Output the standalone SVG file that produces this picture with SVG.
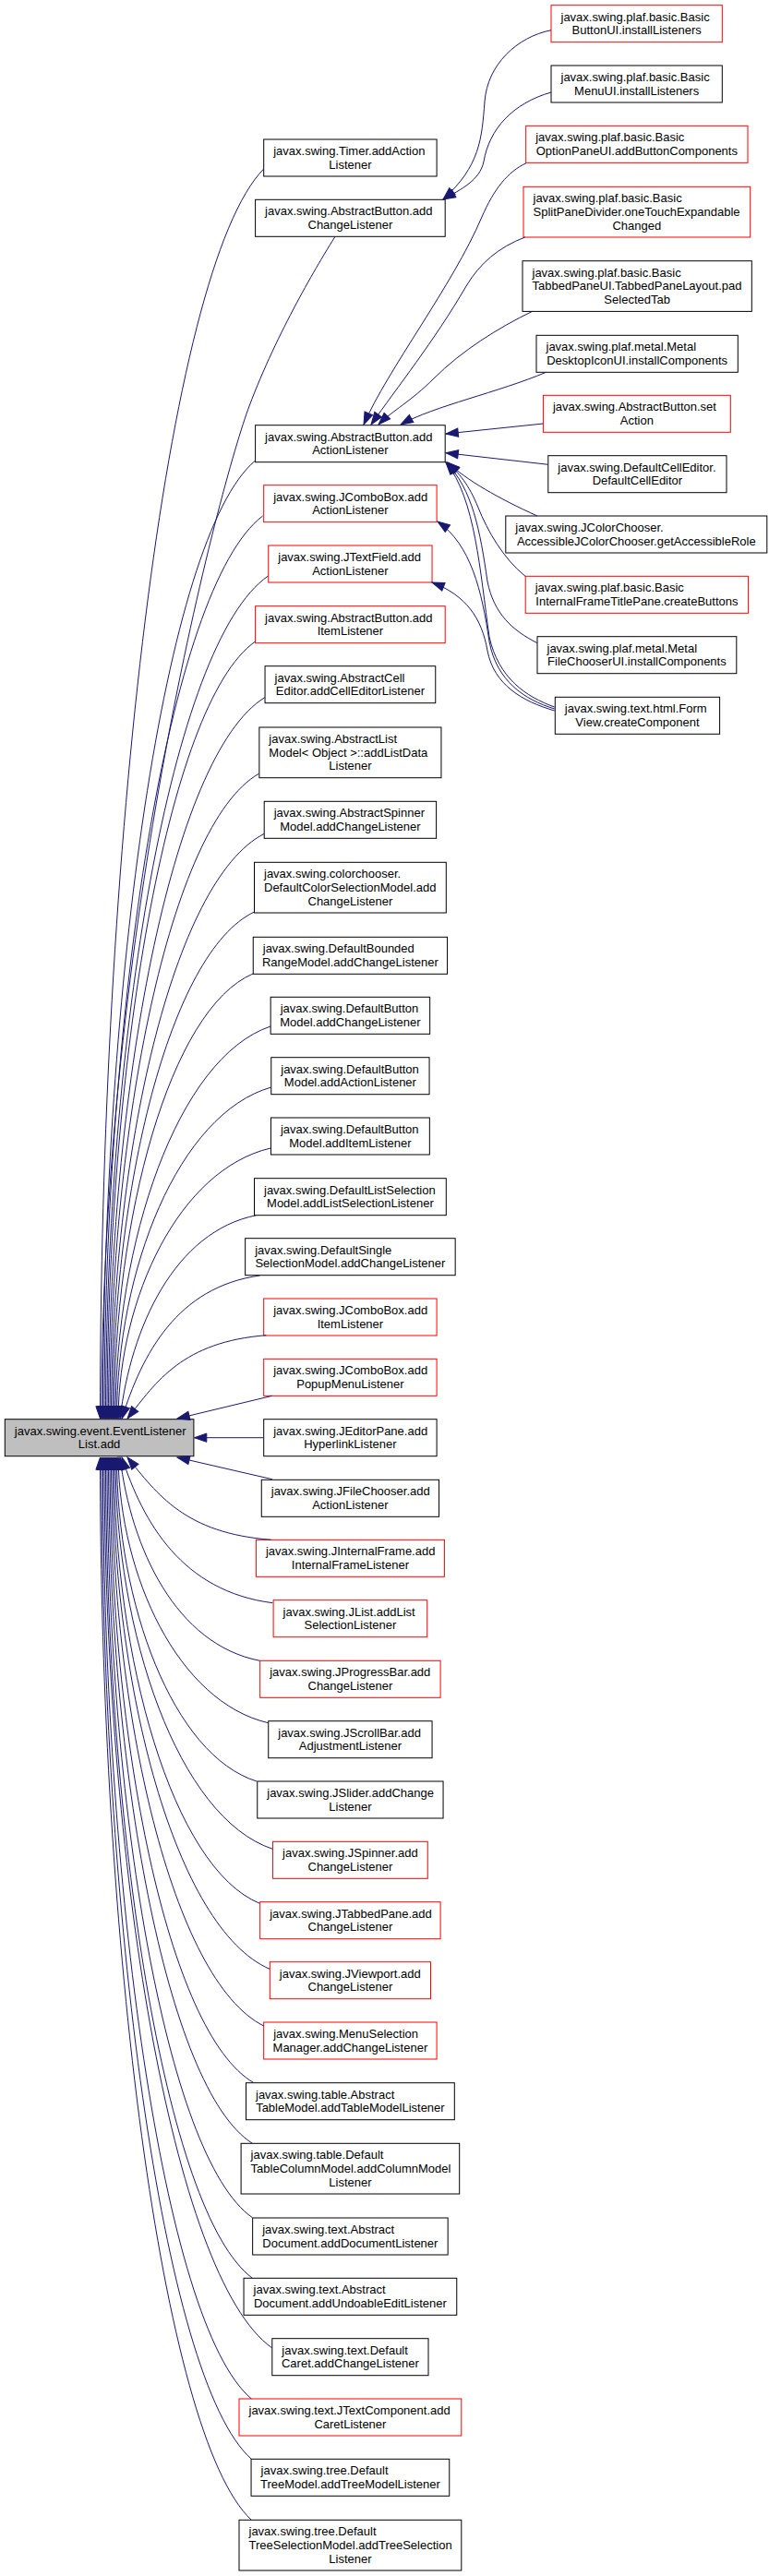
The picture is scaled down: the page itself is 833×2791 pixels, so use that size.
<svg xmlns="http://www.w3.org/2000/svg" width="833" height="2791" viewBox="0 0 833 2791">
<defs>
<style>
.n rect{fill:#fff;stroke:#000;stroke-width:1}
.n.r rect{stroke:#f00}
.n.root rect{fill:#bfbfbf}
text{font-family:"Liberation Sans",Arial,Helvetica,sans-serif;font-size:13px;fill:#000}
.c{text-anchor:middle}
#edges path{fill:none;stroke:#191970;stroke-width:1;marker-end:url(#arr)}
</style>
<marker id="arr" markerUnits="userSpaceOnUse" viewBox="0 0 14 10" markerWidth="14" markerHeight="10" refX="13.3" refY="4.65" orient="auto" overflow="visible"><path d="M0,0 L13.3,4.65 L0,9.3 Z" fill="#191970" stroke="#191970" stroke-width="1"/></marker>
</defs>
<rect width="833" height="2791" fill="#fff"/>

<g id="nodes">
<g id="n1" class="n r"><rect x="597" y="5.7" width="185.3" height="40"/><text x="607.5" y="22.5">javax.swing.plaf.basic.Basic</text><text class="c" x="689.65" y="37.3">ButtonUI.installListeners</text></g>
<g id="n2" class="n"><rect x="597" y="71" width="185.3" height="40"/><text x="607.5" y="87.8">javax.swing.plaf.basic.Basic</text><text class="c" x="689.65" y="102.6">MenuUI.installListeners</text></g>
<g id="n3" class="n r"><rect x="569.7" y="136.3" width="240.3" height="40"/><text x="580.2" y="153.1">javax.swing.plaf.basic.Basic</text><text class="c" x="689.85" y="167.9">OptionPaneUI.addButtonComponents</text></g>
<g id="n4" class="n r"><rect x="567" y="202.3" width="245.7" height="54.7"/><text x="577.5" y="219.1">javax.swing.plaf.basic.Basic</text><text x="577.5" y="233.9">SplitPaneDivider.oneTouchExpandable</text><text class="c" x="689.85" y="248.7">Changed</text></g>
<g id="n5" class="n"><rect x="285.7" y="151" width="187.4" height="40"/><text x="296.2" y="167.8">javax.swing.Timer.addAction</text><text class="c" x="379.4" y="182.6">Listener</text></g>
<g id="n6" class="n"><rect x="276.6" y="216.3" width="205.6" height="40"/><text x="287.1" y="233.1">javax.swing.AbstractButton.add</text><text class="c" x="379.4" y="247.9">ChangeListener</text></g>
<g id="n7" class="n"><rect x="566" y="282.7" width="248.3" height="54.7"/><text x="576.5" y="299.5">javax.swing.plaf.basic.Basic</text><text x="576.5" y="314.3">TabbedPaneUI.TabbedPaneLayout.pad</text><text class="c" x="690.15" y="329.1">SelectedTab</text></g>
<g id="n8" class="n"><rect x="581" y="363.3" width="218.3" height="40"/><text x="591.5" y="380.1">javax.swing.plaf.metal.Metal</text><text class="c" x="690.15" y="394.9">DesktopIconUI.installComponents</text></g>
<g id="n9" class="n r"><rect x="588.4" y="428.3" width="202.9" height="40"/><text x="598.9" y="445.1">javax.swing.AbstractButton.set</text><text class="c" x="689.85" y="459.9">Action</text></g>
<g id="n10" class="n"><rect x="276.6" y="460.7" width="205.6" height="40"/><text x="287.1" y="477.5">javax.swing.AbstractButton.add</text><text class="c" x="379.4" y="492.3">ActionListener</text></g>
<g id="n11" class="n"><rect x="593.8" y="493.7" width="193.2" height="40"/><text x="604.3" y="510.5">javax.swing.DefaultCellEditor.</text><text class="c" x="690.4" y="525.3">DefaultCellEditor</text></g>
<g id="n12" class="n"><rect x="547.8" y="559" width="283" height="40"/><text x="558.3" y="575.8">javax.swing.JColorChooser.</text><text class="c" x="689.3" y="590.6">AccessibleJColorChooser.getAccessibleRole</text></g>
<g id="n13" class="n r"><rect x="569.2" y="624.3" width="241.4" height="40"/><text x="579.7" y="641.1">javax.swing.plaf.basic.Basic</text><text class="c" x="689.9" y="655.9">InternalFrameTitlePane.createButtons</text></g>
<g id="n14" class="n r"><rect x="285.7" y="525.7" width="187.4" height="40"/><text x="296.2" y="542.5">javax.swing.JComboBox.add</text><text class="c" x="379.4" y="557.3">ActionListener</text></g>
<g id="n15" class="n r"><rect x="290.75" y="591" width="177.3" height="40"/><text x="301.25" y="607.8">javax.swing.JTextField.add</text><text class="c" x="379.4" y="622.6">ActionListener</text></g>
<g id="n16" class="n r"><rect x="276.6" y="656.7" width="205.6" height="40"/><text x="287.1" y="673.5">javax.swing.AbstractButton.add</text><text class="c" x="379.4" y="688.3">ItemListener</text></g>
<g id="n17" class="n"><rect x="582" y="689.7" width="215.8" height="40"/><text x="592.5" y="706.5">javax.swing.plaf.metal.Metal</text><text class="c" x="689.9" y="721.3">FileChooserUI.installComponents</text></g>
<g id="n18" class="n"><rect x="601.3" y="755.3" width="178.3" height="40"/><text x="611.8" y="772.1">javax.swing.text.html.Form</text><text class="c" x="690.45" y="786.9">View.createComponent</text></g>
<g id="n19" class="n"><rect x="287.05" y="721.7" width="184.7" height="40"/><text x="297.55" y="738.5">javax.swing.AbstractCell</text><text class="c" x="379.4" y="753.3">Editor.addCellEditorListener</text></g>
<g id="n20" class="n"><rect x="280.85" y="788" width="197.1" height="54.7"/><text x="291.35" y="804.8">javax.swing.AbstractList</text><text x="291.35" y="819.6">Model&lt; Object &gt;::addListData</text><text class="c" x="379.4" y="834.4">Listener</text></g>
<g id="n21" class="n"><rect x="286.2" y="868.3" width="186.4" height="40"/><text x="296.7" y="885.1">javax.swing.AbstractSpinner</text><text class="c" x="379.4" y="899.9">Model.addChangeListener</text></g>
<g id="n22" class="n"><rect x="275.5" y="934.3" width="207.8" height="54.7"/><text x="286" y="951.1">javax.swing.colorchooser.</text><text x="286" y="965.9">DefaultColorSelectionModel.add</text><text class="c" x="379.4" y="980.7">ChangeListener</text></g>
<g id="n23" class="n"><rect x="274.25" y="1015.3" width="210.3" height="40"/><text x="284.75" y="1032.1">javax.swing.DefaultBounded</text><text class="c" x="379.4" y="1046.9">RangeModel.addChangeListener</text></g>
<g id="n24" class="n"><rect x="293.15" y="1080.3" width="172.5" height="40"/><text x="303.65" y="1097.1">javax.swing.DefaultButton</text><text class="c" x="379.4" y="1111.9">Model.addChangeListener</text></g>
<g id="n25" class="n"><rect x="293.75" y="1145.7" width="171.3" height="40"/><text x="304.25" y="1162.5">javax.swing.DefaultButton</text><text class="c" x="379.4" y="1177.3">Model.addActionListener</text></g>
<g id="n26" class="n"><rect x="293.45" y="1211" width="171.9" height="40"/><text x="303.95" y="1227.8">javax.swing.DefaultButton</text><text class="c" x="379.4" y="1242.6">Model.addItemListener</text></g>
<g id="n27" class="n"><rect x="275.5" y="1276.7" width="207.8" height="40"/><text x="286" y="1293.5">javax.swing.DefaultListSelection</text><text class="c" x="379.4" y="1308.3">Model.addListSelectionListener</text></g>
<g id="n28" class="n"><rect x="265.65" y="1341.7" width="227.5" height="40"/><text x="276.15" y="1358.5">javax.swing.DefaultSingle</text><text class="c" x="379.4" y="1373.3">SelectionModel.addChangeListener</text></g>
<g id="n29" class="n r"><rect x="285.7" y="1407" width="187.4" height="40"/><text x="296.2" y="1423.8">javax.swing.JComboBox.add</text><text class="c" x="379.4" y="1438.6">ItemListener</text></g>
<g id="n30" class="n r"><rect x="285.7" y="1472.3" width="187.4" height="40"/><text x="296.2" y="1489.1">javax.swing.JComboBox.add</text><text class="c" x="379.4" y="1503.9">PopupMenuListener</text></g>
<g id="n31" class="n root"><rect x="5.3" y="1537.7" width="204.6" height="40"/><text x="15.8" y="1554.5">javax.swing.event.EventListener</text><text class="c" x="107.6" y="1569.3">List.add</text></g>
<g id="n32" class="n"><rect x="285.7" y="1537.7" width="187.4" height="40"/><text x="296.2" y="1554.5">javax.swing.JEditorPane.add</text><text class="c" x="379.4" y="1569.3">HyperlinkListener</text></g>
<g id="n33" class="n"><rect x="283.25" y="1603.3" width="192.3" height="40"/><text x="293.75" y="1620.1">javax.swing.JFileChooser.add</text><text class="c" x="379.4" y="1634.9">ActionListener</text></g>
<g id="n34" class="n r"><rect x="277.4" y="1668.3" width="204" height="40"/><text x="287.9" y="1685.1">javax.swing.JInternalFrame.add</text><text class="c" x="379.4" y="1699.9">InternalFrameListener</text></g>
<g id="n35" class="n r"><rect x="296.1" y="1733.7" width="166.6" height="40"/><text x="306.6" y="1750.5">javax.swing.JList.addList</text><text class="c" x="379.4" y="1765.3">SelectionListener</text></g>
<g id="n36" class="n r"><rect x="281.7" y="1799.3" width="195.4" height="40"/><text x="292.2" y="1816.1">javax.swing.JProgressBar.add</text><text class="c" x="379.4" y="1830.9">ChangeListener</text></g>
<g id="n37" class="n"><rect x="290.75" y="1864.7" width="177.3" height="40"/><text x="301.25" y="1881.5">javax.swing.JScrollBar.add</text><text class="c" x="379.4" y="1896.3">AdjustmentListener</text></g>
<g id="n38" class="n"><rect x="278.75" y="1930" width="201.3" height="40"/><text x="289.25" y="1946.8">javax.swing.JSlider.addChange</text><text class="c" x="379.4" y="1961.6">Listener</text></g>
<g id="n39" class="n r"><rect x="295.55" y="1995.3" width="167.7" height="40"/><text x="306.05" y="2012.1">javax.swing.JSpinner.add</text><text class="c" x="379.4" y="2026.9">ChangeListener</text></g>
<g id="n40" class="n r"><rect x="281.7" y="2060.7" width="195.4" height="40"/><text x="292.2" y="2077.5">javax.swing.JTabbedPane.add</text><text class="c" x="379.4" y="2092.3">ChangeListener</text></g>
<g id="n41" class="n r"><rect x="292.3" y="2125.7" width="174.2" height="40"/><text x="302.8" y="2142.5">javax.swing.JViewport.add</text><text class="c" x="379.4" y="2157.3">ChangeListener</text></g>
<g id="n42" class="n r"><rect x="285.7" y="2191" width="187.4" height="40"/><text x="296.2" y="2207.8">javax.swing.MenuSelection</text><text class="c" x="379.4" y="2222.6">Manager.addChangeListener</text></g>
<g id="n43" class="n"><rect x="266.5" y="2256.7" width="225.8" height="40"/><text x="277" y="2273.5">javax.swing.table.Abstract</text><text class="c" x="379.4" y="2288.3">TableModel.addTableModelListener</text></g>
<g id="n44" class="n"><rect x="261.1" y="2322.3" width="236.6" height="54.7"/><text x="271.6" y="2339.1">javax.swing.table.Default</text><text x="271.6" y="2353.9">TableColumnModel.addColumnModel</text><text class="c" x="379.4" y="2368.7">Listener</text></g>
<g id="n45" class="n"><rect x="273.65" y="2403" width="211.5" height="40"/><text x="284.15" y="2419.8">javax.swing.text.Abstract</text><text class="c" x="379.4" y="2434.6">Document.addDocumentListener</text></g>
<g id="n46" class="n"><rect x="264.05" y="2468.3" width="230.7" height="40"/><text x="274.55" y="2485.1">javax.swing.text.Abstract</text><text class="c" x="379.4" y="2499.9">Document.addUndoableEditListener</text></g>
<g id="n47" class="n"><rect x="294.8" y="2533.7" width="169.2" height="40"/><text x="305.3" y="2550.5">javax.swing.text.Default</text><text class="c" x="379.4" y="2565.3">Caret.addChangeListener</text></g>
<g id="n48" class="n r"><rect x="259" y="2599" width="240.8" height="40"/><text x="269.5" y="2615.8">javax.swing.text.JTextComponent.add</text><text class="c" x="379.4" y="2630.6">CaretListener</text></g>
<g id="n49" class="n"><rect x="272.05" y="2664.3" width="214.7" height="40"/><text x="282.55" y="2681.1">javax.swing.tree.Default</text><text class="c" x="379.4" y="2695.9">TreeModel.addTreeModelListener</text></g>
<g id="n50" class="n"><rect x="259" y="2730.3" width="240.8" height="54.7"/><text x="269.5" y="2747.1">javax.swing.tree.Default</text><text x="269.5" y="2761.9">TreeSelectionModel.addTreeSelection</text><text class="c" x="379.4" y="2776.7">Listener</text></g>
</g>

<g id="edges">
<path d="M285.7,183 C179.4,291.3 108.5,927.7 108.5,1537"/>
<path d="M363,256.3 C345,285 300,360 270,440 C240,520 110,1000 110,1537"/>
<path d="M276.6,499 C177.5,582 111.5,1069.9 111.5,1537"/>
<path d="M284.6,559 C181.6,637.2 113,1096.9 113,1537"/>
<path d="M290.5,624 C184.9,697 114.5,1126.2 114.5,1537"/>
<path d="M276.6,695 C180.2,762.4 116,1158.1 116,1537"/>
<path d="M286.8,755.7 C185.2,818.2 117.5,1185.4 117.5,1537"/>
<path d="M280.3,838.3 C183.5,894.2 119,1222.6 119,1537"/>
<path d="M286.2,903.3 C186.8,954 120.5,1251.8 120.5,1537"/>
<path d="M275.5,988 C183.4,1031.9 122,1290 122,1537"/>
<path d="M274,1055 C183.7,1093.6 123.5,1320.1 123.5,1537"/>
<path d="M293,1112 C192.2,1146 125,1345.8 125,1537"/>
<path d="M293.7,1178 C193.4,1206.7 126.5,1375.5 126.5,1537"/>
<path d="M293,1244 C194,1267.4 129.2,1405.2 128,1537"/>
<path d="M277.7,1316.7 C189.1,1334.3 141.8,1437.9 130,1537"/>
<path d="M281.4,1382 C191.8,1394.4 153.7,1467.3 132,1537"/>
<path d="M288.3,1446.7 C198.1,1453.9 169.6,1496.4 138,1537"/>
<path d="M294.8,1512.3 L192,1537"/>
<path d="M285.7,1557.7 L210.5,1557.7"/>
<path d="M294.8,1602.7 L192,1579"/>
<path d="M293.7,1668.3 C200.3,1661.2 170.7,1619.2 138,1579"/>
<path d="M295.3,1736.7 C197.3,1724.1 155.2,1650 132,1579"/>
<path d="M281.4,1799.3 C190.6,1781.7 142.1,1678.1 130,1579"/>
<path d="M290.5,1866.7 C193,1843.7 130,1708.5 128,1579"/>
<path d="M278.2,1930 C187.2,1901.9 126.5,1737 126.5,1579"/>
<path d="M295.3,2003.3 C193.1,1969.4 125,1769.9 125,1579"/>
<path d="M281.4,2062.3 C186.7,2023.6 123.5,1796.5 123.5,1579"/>
<path d="M292,2133.3 C190,2089 122,1828.4 122,1579"/>
<path d="M285.7,2195 C186.6,2145.7 120.5,1856.2 120.5,1579"/>
<path d="M275,2256.7 C181.4,2202.5 119,1884 119,1579"/>
<path d="M273.4,2322.3 C179.9,2262.8 117.5,1913.5 117.5,1579"/>
<path d="M273.4,2402.7 C179,2336.8 116,1949.7 116,1579"/>
<path d="M273.4,2468.3 C178.1,2397.2 114.5,1979.2 114.5,1579"/>
<path d="M294.8,2544 C185.7,2466.8 113,2013.3 113,1579"/>
<path d="M272.3,2599 C175.8,2517.4 111.5,2038 111.5,1579"/>
<path d="M272.3,2664.3 C174.9,2577.5 110,2067.4 110,1579"/>
<path d="M272.3,2730.3 C174,2638.2 108.5,2097.1 108.5,1579"/>

<path d="M597,32.7 C560,40 528,70 525,110 C522,150 520,180 480,216"/>
<path d="M597,100 C555,112 530,140 524,175 C520,195 500,205 480,216"/>
<path d="M570,176.7 C550,186 535,205 522,235 C490,310 420,400 394,460"/>
<path d="M568.7,257 C540,268 520,285 505,310 C470,370 430,420 402,460"/>
<path d="M576.7,337.3 C540,355 500,380 470,410 C445,435 425,445 410,460"/>
<path d="M591.6,403.3 C540,425 470,440 434,460"/>
<path d="M588.4,459 L483,470"/>
<path d="M593.8,503.3 L483,490.7"/>
<path d="M582,559 C540,540 505,520 485,501"/>
<path d="M569,624.3 C545,605 528,575 518,550 C508,525 497,512 484,501"/>
<path d="M582,696.7 C555,683 535,665 528,630 C520,575 512,530 483,501"/>
<path d="M600.7,766 C570,755 540,735 530,690 C520,620 515,540 483,501"/>
<path d="M600.7,768 C568,758 538,738 530,695 C522,640 510,590 474,565"/>
<path d="M600.7,770 C566,760 535,742 528,705 C522,670 505,645 468,631"/>
</g>
</svg>
